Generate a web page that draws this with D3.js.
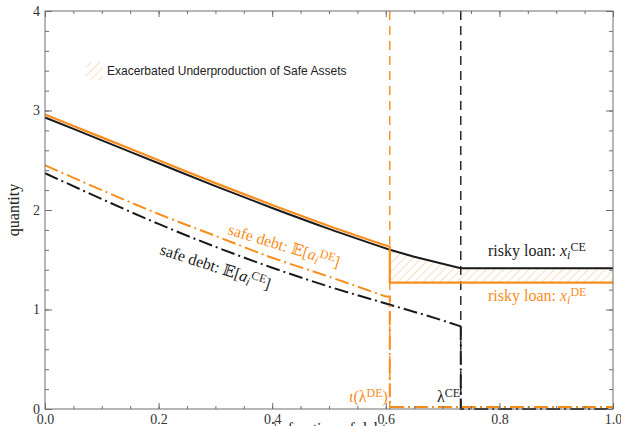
<!DOCTYPE html>
<html>
<head>
<meta charset="utf-8">
<script src="https://cdn.jsdelivr.net/npm/d3@7"></script>
<style>
  body { margin: 0; background: #fff; }
  svg { display: block; }
</style>
</head>
<body>
<div id="chart"></div>
<script>
// share of debt grid (smooth part, up to lambda DE)
const lambdaDE = 0.607;
const lambdaCE = 0.732;
const xSmooth = [0, 0.1, 0.2, 0.3, 0.4, 0.5, 0.607];
const riskyCE = [2.93, 2.70, 2.47, 2.24, 2.02, 1.81, 1.60];
const riskyDE = [2.96, 2.73, 2.50, 2.27, 2.05, 1.84, 1.63];
// black risky loan between the two thresholds, then flat
const xMid = [0.607, 0.65, 0.7, 0.732, 1.0];
const riskyCEMid = [1.60, 1.53, 1.46, 1.415, 1.415];
const riskyDEFlat = 1.27;
// safe debt
const xSafeDE = [0, 0.1, 0.2, 0.3, 0.4, 0.5, 0.6];
const safeDE = [2.45, 2.20, 1.96, 1.74, 1.52, 1.33, 1.13];
const safeDELow = 0.02;
const xSafeCE = [0, 0.1, 0.2, 0.3, 0.4, 0.5, 0.6, 0.7, 0.732];
const safeCE = [2.37, 2.11, 1.86, 1.63, 1.42, 1.23, 1.06, 0.89, 0.83];
const xTicks = [0, 0.2, 0.4, 0.6, 0.8, 1.0];
const yTicks = [0, 1, 2, 3, 4];

const width = 621, height = 426;
const margin = {top: 11, right: 8, bottom: 17, left: 45};
const orange = '#f98d1b';
const black = '#1a1a1a';
const frame = '#6e6e6e';
const serif = '"Liberation Serif", "Times New Roman", serif';

const svg = d3.select('#chart').append('svg')
  .attr('width', width).attr('height', height);

const defs = svg.append('defs');
const pat = defs.append('pattern')
  .attr('id', 'hatch')
  .attr('patternUnits', 'userSpaceOnUse')
  .attr('width', 6).attr('height', 6)
  .attr('patternTransform', 'rotate(45)');
pat.append('line')
  .attr('x1', 0).attr('y1', 0).attr('x2', 0).attr('y2', 6)
  .attr('stroke', '#f7c795').attr('stroke-width', 1.2);

const x = d3.scaleLinear().domain([0, 1]).range([margin.left, width - margin.right]);
const y = d3.scaleLinear().domain([0, 4]).range([height - margin.bottom, margin.top]);

const zip = (xs, ys) => xs.map((d, i) => [d, ys[i]]);
const line = d3.line().x(d => x(d[0])).y(d => y(d[1]));
const smooth = d3.line().x(d => x(d[0])).y(d => y(d[1])).curve(d3.curveMonotoneX);

// hatched gap between the two risky loan curves
svg.append('path')
  .datum(zip(xMid, riskyCEMid))
  .attr('fill', 'url(#hatch)')
  .attr('d', d3.area()
    .x(d => x(d[0]))
    .y0(y(riskyDEFlat))
    .y1(d => y(d[1])));

// vertical threshold lines
svg.append('line')
  .attr('x1', x(lambdaDE)).attr('x2', x(lambdaDE))
  .attr('y1', y(4)).attr('y2', y(0))
  .attr('stroke', orange).attr('stroke-width', 1.4)
  .attr('stroke-dasharray', '9,6');
svg.append('line')
  .attr('x1', x(lambdaCE)).attr('x2', x(lambdaCE))
  .attr('y1', y(4)).attr('y2', y(0))
  .attr('stroke', black).attr('stroke-width', 1.4)
  .attr('stroke-dasharray', '9,6');

// safe debt CE (black dash-dot)
const dashDot = '14,4,2,4';
svg.append('path')
  .attr('d', smooth(zip(xSafeCE, safeCE)))
  .attr('fill', 'none').attr('stroke', black).attr('stroke-width', 2)
  .attr('stroke-dasharray', dashDot);
svg.append('path')
  .attr('d', line([[lambdaCE, safeCE[safeCE.length - 1]], [lambdaCE, 0], [1, 0]]))
  .attr('fill', 'none').attr('stroke', black).attr('stroke-width', 2)
  .attr('stroke-dasharray', dashDot);

// safe debt DE (orange dash-dot)
svg.append('path')
  .attr('d', smooth(zip(xSafeDE, safeDE)) + line([[0.6, safeDE[safeDE.length - 1]], [lambdaDE, safeDE[safeDE.length - 1]], [lambdaDE, safeDELow], [1, safeDELow]]).replace('M', 'L'))
  .attr('fill', 'none').attr('stroke', orange).attr('stroke-width', 2)
  .attr('stroke-dasharray', dashDot);

// risky loan CE (black solid)
svg.append('path')
  .attr('d', smooth(zip(xSmooth, riskyCE)))
  .attr('fill', 'none').attr('stroke', black).attr('stroke-width', 2);
svg.append('path')
  .attr('d', line(zip(xMid, riskyCEMid)))
  .attr('fill', 'none').attr('stroke', black).attr('stroke-width', 2);

// risky loan DE (orange solid)
svg.append('path')
  .attr('d', smooth(zip(xSmooth, riskyDE)) + line([[lambdaDE, riskyDE[riskyDE.length - 1]], [lambdaDE, riskyDEFlat], [1, riskyDEFlat]]).replace('M', 'L'))
  .attr('fill', 'none').attr('stroke', orange).attr('stroke-width', 2.2);

// frame and ticks
svg.append('rect')
  .attr('x', x(0)).attr('y', y(4))
  .attr('width', x(1) - x(0)).attr('height', y(0) - y(4))
  .attr('fill', 'none').attr('stroke', frame).attr('stroke-width', 1);

const xMinor = d3.range(0, 1.0001, 0.05);
const yMinor = d3.range(0, 4.0001, 0.2);

function styleAxis(g) {
  g.select('.domain').remove();
  g.selectAll('.tick line').attr('stroke', frame);
  g.selectAll('.tick text')
    .attr('fill', '#333')
    .style('font-family', serif)
    .style('font-size', '14px');
}

svg.append('g').attr('transform', `translate(0,${y(0)})`)
  .call(d3.axisBottom(x).tickValues(xMinor).tickSize(-3).tickFormat(''))
  .call(styleAxis);
svg.append('g').attr('transform', `translate(0,${y(0)})`)
  .call(d3.axisBottom(x).tickValues(xTicks).tickSize(-6).tickPadding(5).tickFormat(d3.format('.1f')))
  .call(styleAxis);
svg.append('g').attr('transform', `translate(0,${y(4)})`)
  .call(d3.axisTop(x).tickValues(xMinor).tickSize(-3).tickFormat(''))
  .call(styleAxis);
svg.append('g').attr('transform', `translate(0,${y(4)})`)
  .call(d3.axisTop(x).tickValues(xTicks).tickSize(-6).tickFormat(''))
  .call(styleAxis);

svg.append('g').attr('transform', `translate(${x(0)},0)`)
  .call(d3.axisLeft(y).tickValues(yMinor).tickSize(-4).tickFormat(''))
  .call(styleAxis);
svg.append('g').attr('transform', `translate(${x(0)},0)`)
  .call(d3.axisLeft(y).tickValues(yTicks).tickSize(-7).tickPadding(5).tickFormat(d3.format('d')))
  .call(styleAxis);
svg.append('g').attr('transform', `translate(${x(1)},0)`)
  .call(d3.axisRight(y).tickValues(yMinor).tickSize(-4).tickFormat(''))
  .call(styleAxis);
svg.append('g').attr('transform', `translate(${x(1)},0)`)
  .call(d3.axisRight(y).tickValues(yTicks).tickSize(-7).tickFormat(''))
  .call(styleAxis);

// axis titles
svg.append('text')
  .attr('transform', `translate(19,${(y(0) + y(4)) / 2}) rotate(-90)`)
  .attr('text-anchor', 'middle')
  .style('font-family', serif).style('font-size', '16px').attr('fill', '#222')
  .text('quantity');
svg.append('text')
  .attr('x', (x(0) + x(1)) / 2).attr('y', 434)
  .attr('text-anchor', 'middle')
  .style('font-family', serif).style('font-size', '16px').attr('fill', '#222')
  .text('λ: fraction of debt');

// legend
svg.append('rect')
  .attr('x', 86).attr('y', 62).attr('width', 17).attr('height', 18)
  .attr('fill', 'url(#hatch)');
svg.append('text')
  .attr('x', 107).attr('y', 75)
  .style('font-family', '"Liberation Sans", Arial, sans-serif').style('font-size', '12px')
  .attr('fill', '#222')
  .text('Exacerbated Underproduction of Safe Assets');

// annotations
function mathLabel(g, parts) {
  const t = g.append('text')
    .style('font-family', serif).style('font-size', '16px');
  parts.forEach(p => {
    const s = t.append('tspan').text(p.t);
    if (p.i) s.style('font-style', 'italic');
    if (p.sub) s.attr('baseline-shift', '-25%').style('font-size', '12px');
    if (p.sup) s.attr('baseline-shift', '45%').style('font-size', '12px');
    if (p.f) s.style('font-family', '"DejaVu Serif", serif');
  });
  return t;
}

const safeParts = tag => [
  {t: 'safe debt: '}, {t: '𝔼', f: true}, {t: '['}, {t: 'a', i: true},
  {t: 'i', i: true, sub: true}, {t: tag, sup: true}, {t: ']'}
];
mathLabel(svg.append('g').attr('transform', 'translate(227,234) rotate(17)'), safeParts('DE'))
  .attr('fill', orange);
mathLabel(svg.append('g').attr('transform', 'translate(159,254) rotate(18)'), safeParts('CE'))
  .attr('fill', black);

mathLabel(svg.append('g').attr('transform', 'translate(488,256)'),
  [{t: 'risky loan: '}, {t: 'x', i: true}, {t: 'i', i: true, sub: true}, {t: 'CE', sup: true}])
  .attr('fill', black);
mathLabel(svg.append('g').attr('transform', 'translate(488,301)'),
  [{t: 'risky loan: '}, {t: 'x', i: true}, {t: 'i', i: true, sub: true}, {t: 'DE', sup: true}])
  .attr('fill', orange);

mathLabel(svg.append('g').attr('transform', 'translate(349,402)'),
  [{t: 'ι', i: true}, {t: '(λ'}, {t: 'DE', sup: true}, {t: ')'}])
  .attr('fill', orange);
mathLabel(svg.append('g').attr('transform', 'translate(437,402)'),
  [{t: 'λ'}, {t: 'CE', sup: true}])
  .attr('fill', black);
</script>
</body>
</html>
